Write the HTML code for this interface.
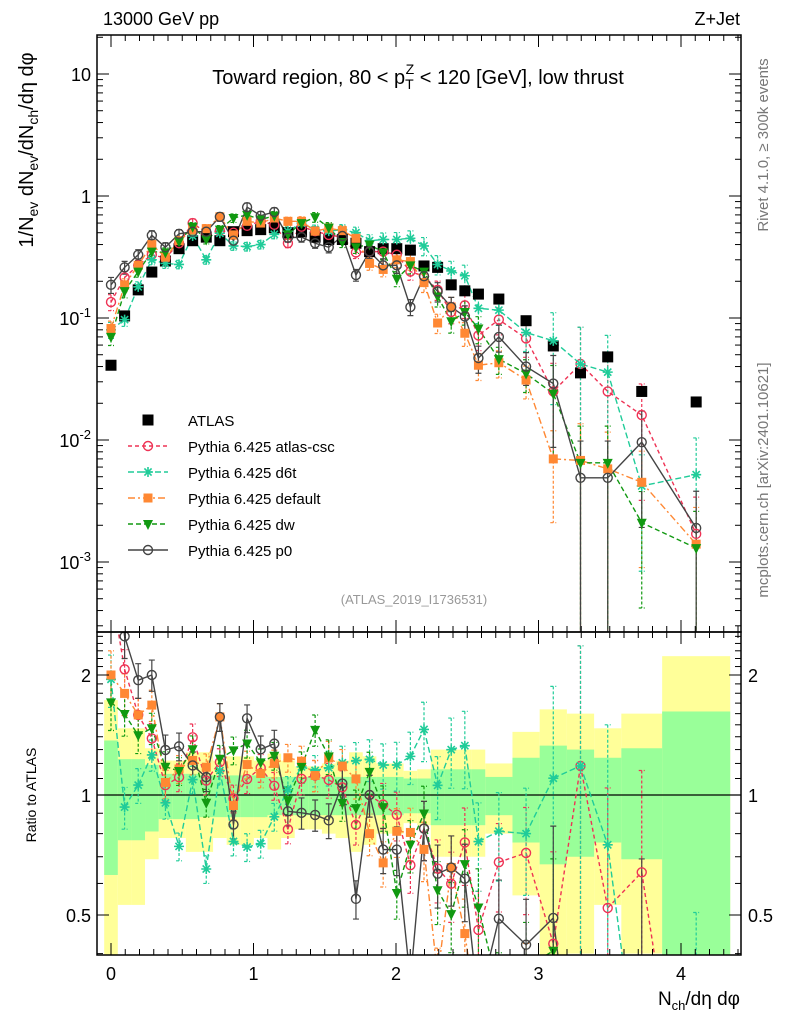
<!DOCTYPE html>
<html><head><meta charset="utf-8">
<style>
html,body{margin:0;padding:0;background:#fff;width:786px;height:1024px;overflow:hidden;}
svg{display:block;font-family:"Liberation Sans",Arial,sans-serif;overflow:hidden;}
</style></head>
<body>
<svg id="chart" width="786" height="1024" viewBox="0 0 786 1024" xmlns="http://www.w3.org/2000/svg">
<defs>
<clipPath id="clipMain"><rect x="97" y="35" width="644" height="597"/></clipPath>
<clipPath id="clipRatio"><rect x="97" y="632" width="644" height="323"/></clipPath>
</defs>
<g id="bands" clip-path="url(#clipRatio)"></g>
<g id="grid"></g>
<g id="mainMarks" clip-path="url(#clipMain)"></g>
<g id="ratioMarks" clip-path="url(#clipRatio)"></g>
<rect x="97" y="35" width="644" height="597" fill="none" stroke="#000" stroke-width="1.5"/>
<rect x="97" y="632" width="644" height="323" fill="none" stroke="#000" stroke-width="1.5"/>
<g id="axes"></g>
<text x="103" y="25" font-size="18">13000 GeV pp</text>
<text x="740" y="25" font-size="18" text-anchor="end">Z+Jet</text>
<text x="418" y="84" font-size="20" text-anchor="middle">Toward region, 80 &lt; p<tspan font-size="14" dy="5">T</tspan><tspan font-size="14" dx="-8" dy="-15">Z</tspan><tspan dy="10"> &lt; 120 [GeV], low thrust</tspan></text>
<text x="414" y="604" font-size="13" fill="#999" text-anchor="middle">(ATLAS_2019_I1736531)</text>
<text transform="translate(768,145) rotate(-90)" font-size="15" fill="#777" text-anchor="middle">Rivet 4.1.0, ≥ 300k events</text>
<text transform="translate(768,480) rotate(-90)" font-size="15" fill="#777" text-anchor="middle">mcplots.cern.ch [arXiv:2401.10621]</text>
<text transform="translate(33,150) rotate(-90)" font-size="20" text-anchor="middle">1/N<tspan font-size="14" dy="5">ev</tspan><tspan dy="-5"> dN</tspan><tspan font-size="14" dy="5">ev</tspan><tspan dy="-5">/dN</tspan><tspan font-size="14" dy="5">ch</tspan><tspan dy="-5">/dη dφ</tspan></text>
<text transform="translate(36,795) rotate(-90)" font-size="14" text-anchor="middle">Ratio to ATLAS</text>
<text x="740" y="1005" font-size="19" text-anchor="end">N<tspan font-size="13" dy="5">ch</tspan><tspan dy="-5">/dη dφ</tspan></text>
<g id="legend"></g>
</svg>
<script>
// ---- data ----
const binEdgesN = [-0.5,0.5,1.5,2.5,3.5,4.5,5.5,6.5,7.5,8.5,9.5,10.5,11.5,12.5,13.5,14.5,15.5,16.5,17.5,18.5,19.5,20.5,21.5,22.5,23.5,24.5,25.5,26.5,27.5,29.5,31.5,33.5,35.5,37.5,40.5,45.5];
const nchScale = 0.0955;
const atlas = [0.041,0.104,0.17,0.238,0.293,0.37,0.43,0.46,0.43,0.51,0.52,0.53,0.55,0.50,0.51,0.46,0.44,0.44,0.41,0.35,0.37,0.37,0.36,0.267,0.26,0.187,0.167,0.157,0.143,0.095,0.059,0.0355,0.048,0.025,0.0205];
const atlasStatErr = [0.37,0.23,0.23,0.19,0.13,0.13,0.13,0.12,0.12,0.12,0.12,0.12,0.11,0.11,0.11,0.11,0.11,0.11,0.11,0.11,0.11,0.11,0.10,0.10,0.16,0.16,0.16,0.16,0.11,0.24,0.33,0.30,0.24,0.31,0.62];
const atlasTotErr = [0.73,0.47,0.47,0.31,0.22,0.22,0.28,0.28,0.22,0.25,0.25,0.22,0.27,0.22,0.18,0.18,0.2,0.22,0.28,0.25,0.2,0.2,0.15,0.16,0.30,0.30,0.30,0.30,0.20,0.44,0.64,0.60,0.47,0.60,1.23];
const atlasCsc = [0.135,0.215,0.27,0.33,0.31,0.41,0.6,0.5,0.52,0.5,0.57,0.62,0.58,0.41,0.56,0.515,0.48,0.46,0.345,0.35,0.35,0.33,0.24,0.22,0.17,0.112,0.127,0.072,0.097,0.068,0.025,0.042,0.025,0.016,0.0017];
const d6t = [0.08,0.097,0.18,0.3,0.28,0.275,0.47,0.3,0.495,0.39,0.385,0.4,0.485,0.515,0.6,0.53,0.515,0.53,0.5,0.43,0.44,0.44,0.45,0.39,0.275,0.243,0.222,0.12,0.116,0.076,0.065,0.042,0.036,0.0042,0.0052];
const pdefault = [0.082,0.187,0.27,0.4,0.315,0.43,0.525,0.54,0.675,0.48,0.62,0.6,0.66,0.62,0.62,0.515,0.545,0.52,0.45,0.28,0.25,0.3,0.29,0.195,0.091,0.123,0.075,0.041,0.043,0.031,0.007,0.0068,0.0058,0.0045,0.0014];
const dw = [0.07,0.166,0.24,0.35,0.345,0.425,0.56,0.44,0.53,0.66,0.7,0.64,0.69,0.485,0.6,0.67,0.55,0.42,0.38,0.4,0.345,0.21,0.27,0.24,0.15,0.094,0.112,0.082,0.046,0.035,0.024,0.0065,0.0065,0.0021,0.0013];
const p0 = [0.187,0.26,0.33,0.476,0.38,0.49,0.51,0.51,0.675,0.43,0.81,0.69,0.74,0.455,0.46,0.41,0.38,0.47,0.225,0.35,0.27,0.27,0.123,0.22,0.165,0.123,0.103,0.047,0.07,0.04,0.029,0.0049,0.0049,0.0096,0.0019];
const mcRelErr = [0.15,0.12,0.1,0.09,0.09,0.08,0.08,0.08,0.08,0.08,0.08,0.08,0.08,0.08,0.09,0.09,0.1,0.1,0.11,0.12,0.13,0.14,0.15,0.17,0.18,0.2,0.22,0.25,0.25,0.3,0.7,1.0,1.0,0.8,1.0];
const xTickLabels = ["0","1","2","3","4"];
const seriesNames = ["Pythia 6.425 atlas-csc","Pythia 6.425 d6t","Pythia 6.425 default","Pythia 6.425 dw","Pythia 6.425 p0"];

// ---- scales ----
const NS="http://www.w3.org/2000/svg";
const X = v => 111 + v*142.5;
const YM = v => 196 - 122*Math.log10(v);
const YR = r => 795 - 120*Math.log2(r);
function el(tag, attrs, parent){const e=document.createElementNS(NS,tag);for(const k in attrs)e.setAttribute(k,attrs[k]);parent.appendChild(e);return e;}
const xs = [];
for(let i=0;i<binEdgesN.length-1;i++) xs.push((binEdgesN[i]+binEdgesN[i+1])/2*nchScale);

// clip a polyline to y in [yMin,yMax], returning SVG path data
function clippedPath(pts,yMin,yMax){
  let d='';
  for(let i=0;i<pts.length-1;i++){
    let [x0,y0]=pts[i], [x1,y1]=pts[i+1];
    let t0=0,t1=1; const dy=y1-y0;
    if(dy===0){ if(y0<yMin||y0>yMax) continue; }
    else{
      let ta=(yMin-y0)/dy, tb=(yMax-y0)/dy;
      const lo=Math.min(ta,tb), hi=Math.max(ta,tb);
      t0=Math.max(t0,lo); t1=Math.min(t1,hi);
      if(t0>t1) continue;
    }
    const ax=x0+(x1-x0)*t0, ay=y0+dy*t0, bx=x0+(x1-x0)*t1, by=y0+dy*t1;
    d+=`M${ax.toFixed(2)},${ay.toFixed(2)}L${bx.toFixed(2)},${by.toFixed(2)}`;
  }
  return d;
}

// ---- bands ----
const gb=document.getElementById('bands');
for(let i=0;i<xs.length;i++){
  const x0=X(binEdgesN[i]*nchScale), x1=X(binEdgesN[i+1]*nchScale);
  const lo=Math.max(1-atlasTotErr[i],0.3), hi=1+atlasTotErr[i];
  const ry=el('rect',{x:x0,y:YR(hi),width:x1-x0,height:YR(lo)-YR(hi),fill:'#ffff99'},gb);
  
  
}
for(let i=0;i<xs.length;i++){
  const x0=X(binEdgesN[i]*nchScale), x1=X(binEdgesN[i+1]*nchScale);
  const lo=Math.max(1-atlasStatErr[i],0.3), hi=1+atlasStatErr[i];
  const rg=el('rect',{x:x0,y:YR(hi),width:x1-x0,height:YR(lo)-YR(hi),fill:'#99ff99'},gb);
  
  
}
const one=el('line',{x1:97,x2:741,y1:YR(1),y2:YR(1),stroke:'#000','stroke-width':1.3},gb);



// ---- axes ----
const ga=document.getElementById('axes');
for(let k=-1;k<=46;k++){
  const v=k*0.1; const px=X(v); if(px<97||px>741) continue;
  const major=(k%10===0); const L=major?12:6;
  [[632,-1],[35,1],[955,-1],[632,1]].forEach(([y,d])=>{
    const t=el('line',{x1:px,x2:px,y1:y,y2:y+d*L,stroke:'#000','stroke-width':1},ga);
    
    
  });
}
xTickLabels.forEach((lab,i)=>{
  const t=el('text',{x:X(i),y:980,'font-size':18,'text-anchor':'middle'},ga);
  t.textContent=lab;
  
  
});
for(let d=-4;d<=1;d++){
  for(let m=1;m<=9;m++){
    const v=m*Math.pow(10,d); const py=YM(v); if(py<35||py>632) continue;
    const L=m===1?12:6;
    [[97,1],[741,-1]].forEach(([x,s])=>{
      const t=el('line',{x1:x,x2:x+s*L,y1:py,y2:py,stroke:'#000','stroke-width':1},ga);
      
      
    });
  }
}
const yLabs=[[10,"10"],[1,"1"]];
yLabs.forEach(([v,s])=>{
  const t=el('text',{x:91,y:YM(v)+7,'font-size':18,'text-anchor':'end'},ga);
  t.textContent=s;
  
  
});
[-1,-2,-3].forEach(e=>{
  const t=el('text',{x:91,y:YM(Math.pow(10,e))+7,'font-size':18,'text-anchor':'end'},ga);
  
  
  t.innerHTML='10<tspan font-size="13" dy="-8">'+e+'</tspan>';
});
for(let m=4;m<=25;m++){
  const r=m/10; const py=YR(r); if(py<632||py>955) continue;
  const major=(m===5||m===10||m===20); const L=major?12:6;
  [[97,1],[741,-1]].forEach(([x,s])=>{
    const t=el('line',{x1:x,x2:x+s*L,y1:py,y2:py,stroke:'#000','stroke-width':1},ga);
    
    
  });
}
[[2,"2"],[1,"1"],[0.5,"0.5"]].forEach(([r,s])=>{
  const t=el('text',{x:91,y:YR(r)+7,'font-size':18,'text-anchor':'end'},ga);
  t.textContent=s;
  
  
  const t2=el('text',{x:748,y:YR(r)+7,'font-size':18},ga);
  t2.textContent=s;
  
  
});

// ---- markers ----
function marker(kind,color,x,y,parent){
  let m;
  if(kind==='square'){m=el('rect',{x:x-5.5,y:y-5.5,width:11,height:11,fill:'#000'},parent);}
  else if(kind==='circle'){m=el('circle',{cx:x,cy:y,r:4.5,fill:'none',stroke:color,'stroke-width':1.4},parent);}
  else if(kind==='fsquare'){m=el('rect',{x:x-4.5,y:y-4.5,width:9,height:9,fill:color},parent);}
  else if(kind==='tri'){m=el('path',{d:`M${x-5},${y-4}L${x+5},${y-4}L${x},${y+6}Z`,fill:color},parent);}
  else if(kind==='star'){m=el('path',{d:`M${x-5},${y}H${x+5}M${x},${y-5}V${y+5}M${x-3.6},${y-3.6}L${x+3.6},${y+3.6}M${x-3.6},${y+3.6}L${x+3.6},${y-3.6}`,stroke:color,'stroke-width':1.6,fill:'none'},parent);}
  return m;
}
const series=[
 {vals:atlasCsc,color:'#ee3355',kind:'circle',dash:'4,3',name:'atlas-csc'},
 {vals:d6t,color:'#20cc99',kind:'star',dash:'6,3',name:'d6t'},
 {vals:pdefault,color:'#ff8833',kind:'fsquare',dash:'7,3,2,3',name:'default'},
 {vals:dw,color:'#119911',kind:'tri',dash:'5,3',name:'dw'},
 {vals:p0,color:'#444444',kind:'circle',dash:'',name:'p0'}
];
const gm=document.getElementById('mainMarks'), gr=document.getElementById('ratioMarks');
series.forEach(s=>{
  const pm=s.vals.map((v,i)=>X(xs[i])+','+YM(v)).join(' ');
  const lm=el('polyline',{points:pm,fill:'none',stroke:s.color,'stroke-width':1.4,'stroke-dasharray':s.dash},gm);
  
  
  const rpts=s.vals.map((v,i)=>[X(xs[i]),YR(v/atlas[i])]);
  const lr=el('path',{d:clippedPath(rpts,600,1000),fill:'none',stroke:s.color,'stroke-width':1.4,'stroke-dasharray':s.dash},gr);
  
  
  s.vals.forEach((v,i)=>{
    const x=X(xs[i]); const e=v*mcRelErr[i];
    const lo=v-e>0?Math.min(YM(v-e),640):640, hi=YM(v+e);
    const eb=el('path',{d:`M${x},${hi}V${lo}M${x-3},${hi}H${x+3}M${x-3},${lo}H${x+3}`,stroke:s.color,'stroke-width':1.2,'stroke-dasharray':s.dash?'3,2':'',fill:'none'},gm);
    
    
    const r=v/atlas[i], re=r*mcRelErr[i];
    const ctr=Math.min(Math.max(YR(r),600),1000);
    const rlo=r-re>0?Math.min(YR(r-re),960):960, rhi=Math.min(Math.max(YR(r+re),625),960);
    const eb2=el('path',{d:`M${x},${rhi}V${Math.max(rlo,rhi)}M${x-3},${rhi}H${x+3}M${x-3},${rlo}H${x+3}`,stroke:s.color,'stroke-width':1.2,'stroke-dasharray':s.dash?'3,2':'',fill:'none'},gr);
    
    
  });
});
atlas.forEach((v,i)=>{
  const m=marker('square','#000',X(xs[i]),YM(v),gm);
  
  
});
series.forEach(s=>{
  s.vals.forEach((v,i)=>{
    const m=marker(s.kind,s.color,X(xs[i]),YM(v),gm);
    
    
    const ry=YR(v/atlas[i]);
    if(ry<620||ry>970) return;
    const m2=marker(s.kind,s.color,X(xs[i]),ry,gr);
    
    
  });
});

// ---- legend ----
const gl=document.getElementById('legend');
const ly0=420, lstep=26;
const la=marker('square','#000',148,ly0,gl);


const lt=el('text',{x:188,y:ly0+6,'font-size':15},gl);
lt.textContent='ATLAS';


series.forEach((s,k)=>{
  const y=ly0+lstep*(k+1);
  const ln=el('line',{x1:128,x2:168,y1:y,y2:y,stroke:s.color,'stroke-width':1.4,'stroke-dasharray':s.dash},gl);
  
  
  const mk=marker(s.kind,s.color,148,y,gl);
  
  
  const t=el('text',{x:188,y:y+6,'font-size':15},gl);
  t.textContent=seriesNames[k];
  
  
});
</script>
</body></html>
